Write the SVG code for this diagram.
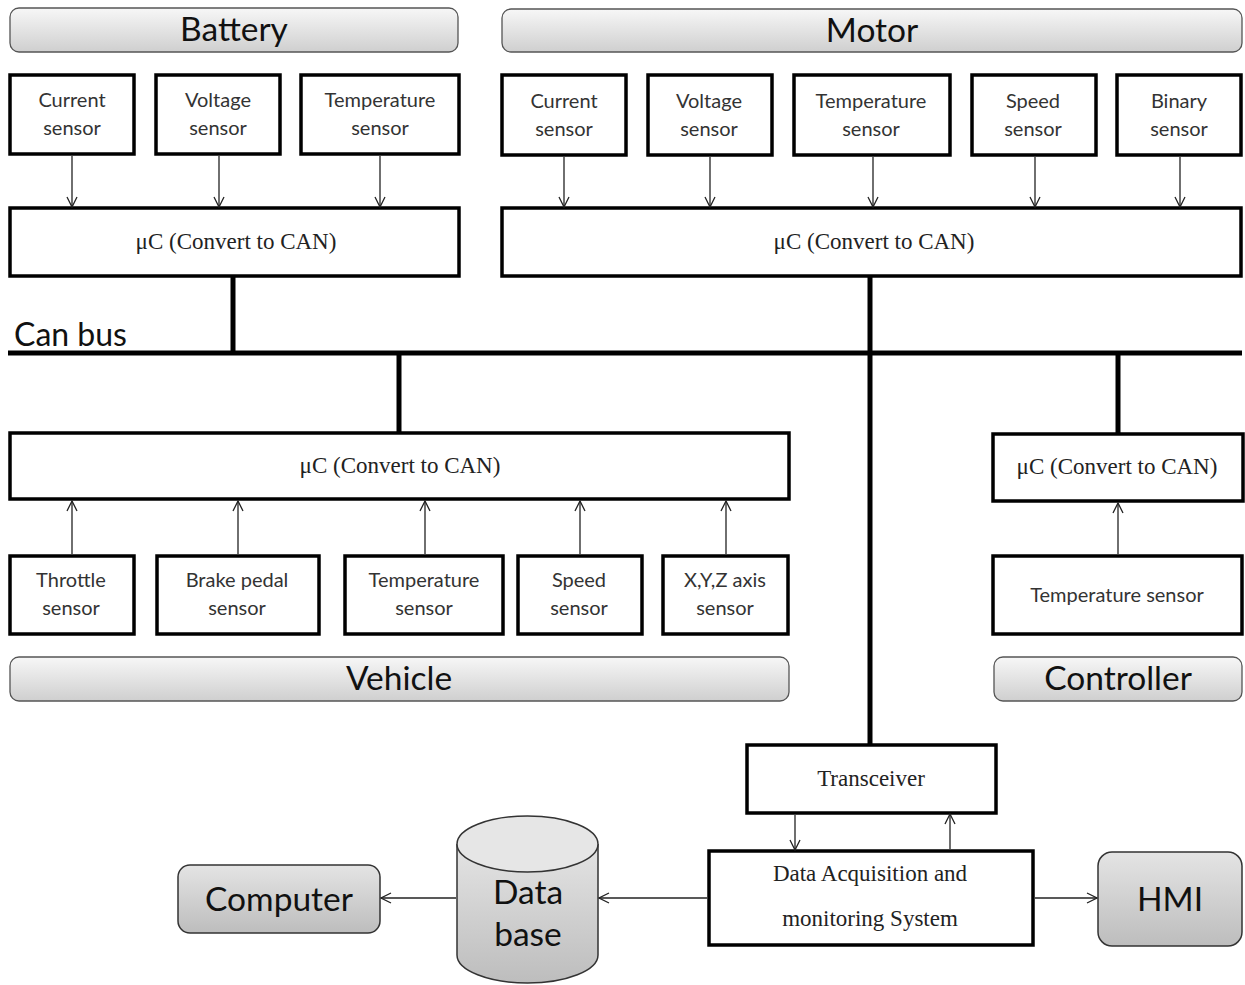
<svg xmlns="http://www.w3.org/2000/svg" width="1245" height="985" viewBox="0 0 1245 985">
<defs>
<linearGradient id="hg" x1="0" y1="0" x2="0" y2="1">
<stop offset="0" stop-color="#f7f7f7"/>
<stop offset="1" stop-color="#cfcfcf"/>
</linearGradient>
<linearGradient id="cg" x1="0" y1="0" x2="0" y2="1">
<stop offset="0" stop-color="#e4e4e4"/>
<stop offset="1" stop-color="#bdbdbd"/>
</linearGradient>
<marker id="ah" viewBox="0 0 12 12" refX="11" refY="6" markerWidth="12" markerHeight="12" markerUnits="userSpaceOnUse" orient="auto">
<path d="M1,1 L11,6 L1,11" fill="none" stroke="#222" stroke-width="1.3"/>
</marker>
</defs>
<style>
.hdr{fill:url(#hg);stroke:#555;stroke-width:1.3}
.htx{font-family:Lato,"Open Sans",sans-serif;font-size:33.5px;fill:#111;text-anchor:middle}
.box{fill:#fff;stroke:#000;stroke-width:3.5}
.stx{font-family:Lato,"Open Sans",sans-serif;font-size:20px;fill:#333;text-anchor:middle}
.ctx{font-family:"Liberation Serif",serif;font-size:23px;fill:#222;text-anchor:middle}
.thin{stroke:#222;stroke-width:1.3;fill:none;marker-end:url(#ah)}
.bus{stroke:#000;stroke-width:5;fill:none}
.gbox{fill:url(#cg);stroke:#333;stroke-width:1.5}
</style>
<rect width="1245" height="985" fill="#fff"/>

<g id="battery">
<rect class="hdr" x="10" y="8" width="448" height="44" rx="9"/>
<text class="htx" x="234" y="41">Battery</text>
</g>
<g id="motor">
<rect class="hdr" x="502" y="9" width="740" height="43" rx="9"/>
<text class="htx" x="872" y="42">Motor</text>
</g>

<g id="b-current"><rect class="box" x="10" y="75" width="124" height="79"/><text class="stx" x="72" y="107">Current</text><text class="stx" x="72" y="135">sensor</text></g>
<g id="b-voltage"><rect class="box" x="156" y="75" width="124" height="79"/><text class="stx" x="218" y="107">Voltage</text><text class="stx" x="218" y="135">sensor</text></g>
<g id="b-temp"><rect class="box" x="301" y="75" width="158" height="79"/><text class="stx" x="380" y="107">Temperature</text><text class="stx" x="380" y="135">sensor</text></g>
<g id="b-uc"><rect class="box" x="10" y="208" width="449" height="68"/><text class="ctx" x="236" y="249">μC (Convert to CAN)</text></g>

<g id="m-current"><rect class="box" x="502" y="75" width="124" height="80"/><text class="stx" x="564" y="108">Current</text><text class="stx" x="564" y="136">sensor</text></g>
<g id="m-voltage"><rect class="box" x="648" y="75" width="124" height="80"/><text class="stx" x="709" y="108">Voltage</text><text class="stx" x="709" y="136">sensor</text></g>
<g id="m-temp"><rect class="box" x="794" y="75" width="156" height="80"/><text class="stx" x="871" y="108">Temperature</text><text class="stx" x="871" y="136">sensor</text></g>
<g id="m-speed"><rect class="box" x="972" y="75" width="124" height="80"/><text class="stx" x="1033" y="108">Speed</text><text class="stx" x="1033" y="136">sensor</text></g>
<g id="m-binary"><rect class="box" x="1117" y="75" width="124" height="80"/><text class="stx" x="1179" y="108">Binary</text><text class="stx" x="1179" y="136">sensor</text></g>
<g id="m-uc"><rect class="box" x="502" y="208" width="739" height="68"/><text class="ctx" x="874" y="249">μC (Convert to CAN)</text></g>

<g id="canbus-label"><text x="14" y="346" style="font-family:Lato,'Open Sans',sans-serif;font-size:32px;fill:#111">Can bus</text></g>

<g id="v-uc"><rect class="box" x="10" y="433" width="779" height="66"/><text class="ctx" x="400" y="473">μC (Convert to CAN)</text></g>
<g id="v-throttle"><rect class="box" x="10" y="556" width="124" height="78"/><text class="stx" x="71" y="587">Throttle</text><text class="stx" x="71" y="615">sensor</text></g>
<g id="v-brake"><rect class="box" x="157" y="556" width="162" height="78"/><text class="stx" x="237" y="587">Brake pedal</text><text class="stx" x="237" y="615">sensor</text></g>
<g id="v-temp"><rect class="box" x="345" y="556" width="158" height="78"/><text class="stx" x="424" y="587">Temperature</text><text class="stx" x="424" y="615">sensor</text></g>
<g id="v-speed"><rect class="box" x="518" y="556" width="124" height="78"/><text class="stx" x="579" y="587">Speed</text><text class="stx" x="579" y="615">sensor</text></g>
<g id="v-xyz"><rect class="box" x="663" y="556" width="125" height="78"/><text class="stx" x="725" y="587">X,Y,Z axis</text><text class="stx" x="725" y="615">sensor</text></g>
<g id="vehicle"><rect class="hdr" x="10" y="657" width="779" height="44" rx="9"/><text class="htx" x="399" y="690">Vehicle</text></g>

<g id="c-uc"><rect class="box" x="993" y="434" width="250" height="67"/><text class="ctx" x="1117" y="474">μC (Convert to CAN)</text></g>
<g id="c-temp"><rect class="box" x="993" y="556" width="249" height="78"/><text class="stx" x="1117" y="602">Temperature sensor</text></g>
<g id="controller"><rect class="hdr" x="994" y="657" width="248" height="44" rx="9"/><text class="htx" x="1118" y="690">Controller</text></g>

<g id="transceiver"><rect class="box" x="747" y="745" width="249" height="68"/><text class="ctx" x="871" y="786">Transceiver</text></g>
<g id="daq"><rect class="box" x="709" y="851" width="324" height="94"/><text class="ctx" x="870" y="881">Data Acquisition  and</text><text class="ctx" x="870" y="926">monitoring System</text></g>
<g id="hmi"><rect class="gbox" x="1098" y="852" width="144" height="94" rx="14"/><text class="htx" x="1170" y="911">HMI</text></g>
<g id="database">
<path class="gbox" d="M457,844 L457,955 A70.5,28 0 0 0 598,955 L598,844"/>
<ellipse class="gbox" cx="527.5" cy="844" rx="70.5" ry="28" style="fill:#e6e6e6"/>
<text class="htx" x="528" y="904">Data</text>
<text class="htx" x="528" y="946">base</text>
</g>
<g id="computer"><rect class="gbox" x="178" y="865" width="202" height="68" rx="12"/><text class="htx" x="279" y="911">Computer</text></g>

<g id="connectors">
<line class="bus" x1="8" y1="353" x2="1242" y2="353"/>
<line class="bus" x1="233" y1="276" x2="233" y2="353"/>
<line class="bus" x1="870" y1="276" x2="870" y2="745"/>
<line class="bus" x1="399" y1="353" x2="399" y2="433"/>
<line class="bus" x1="1118" y1="353" x2="1118" y2="434"/>
<line class="thin" x1="72" y1="156" x2="72" y2="207"/>
<line class="thin" x1="219" y1="156" x2="219" y2="207"/>
<line class="thin" x1="380" y1="156" x2="380" y2="207"/>
<line class="thin" x1="564" y1="157" x2="564" y2="207"/>
<line class="thin" x1="710" y1="157" x2="710" y2="207"/>
<line class="thin" x1="873" y1="157" x2="873" y2="207"/>
<line class="thin" x1="1035" y1="157" x2="1035" y2="207"/>
<line class="thin" x1="1180" y1="157" x2="1180" y2="207"/>
<line class="thin" x1="72" y1="554" x2="72" y2="501"/>
<line class="thin" x1="238" y1="554" x2="238" y2="501"/>
<line class="thin" x1="425" y1="554" x2="425" y2="501"/>
<line class="thin" x1="580" y1="554" x2="580" y2="501"/>
<line class="thin" x1="726" y1="554" x2="726" y2="501"/>
<line class="thin" x1="1118" y1="554" x2="1118" y2="503"/>
<line class="thin" x1="795" y1="815" x2="795" y2="850"/>
<line class="thin" x1="950" y1="849" x2="950" y2="814"/>
<line class="thin" x1="1035" y1="898" x2="1097" y2="898"/>
<line class="thin" x1="707" y1="898" x2="599" y2="898"/>
<line class="thin" x1="456" y1="898" x2="381" y2="898"/>
</g>
</svg>
